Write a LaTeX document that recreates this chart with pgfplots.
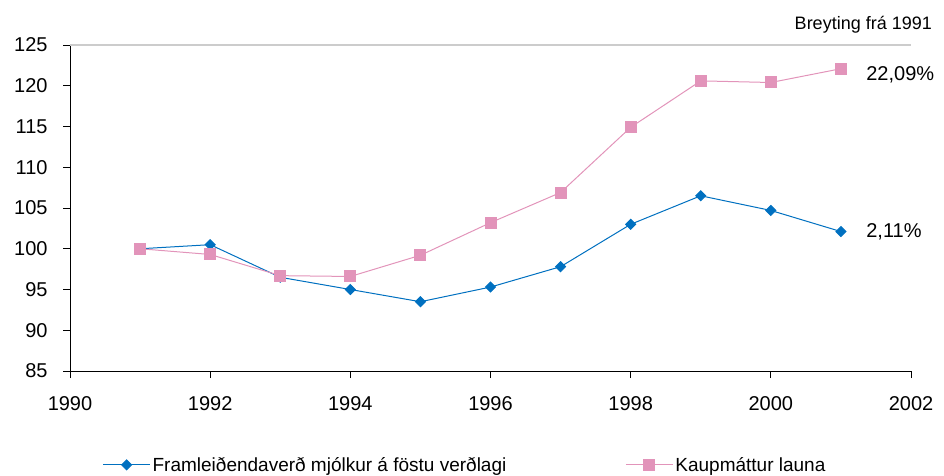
\documentclass[border=0pt]{standalone}
\usepackage{pgfplots}
\pgfplotsset{compat=1.18}
\usepackage{fontspec}
\setmainfont{Liberation Sans}
\definecolor{cblue}{RGB}{0,112,192}
\definecolor{cpink}{RGB}{226,148,186}
\begin{document}
\begin{tikzpicture}
\begin{axis}[
  scale only axis, width=841pt, height=326pt,
  at={(0pt,0pt)}, anchor=origin,
  xmin=1990, xmax=2002, ymin=85, ymax=125,
  xtick={1990,1992,...,2002}, ytick={85,90,...,125},
  axis lines*=left, axis line style={-, black, line width=0.9pt},
  tick align=outside, major tick length=7pt,
  tick style={black, line width=0.9pt},
  /pgf/number format/assume math mode=true,
  /pgf/number format/1000 sep={},
  tick label style={font=\fontsize{20}{24}\selectfont, black},
  yticklabel style={xshift=-12pt},
  xticklabel style={yshift=-15pt},
  clip=false,
  legend columns=2,
  legend style={draw=none, fill=none, at={(rel axis cs:0.4697,-0.288)}, anchor=center,
    font=\fontsize{19}{22}\selectfont, /tikz/every even column/.append style={column sep=117pt}},
  legend image code/.code={\draw[#1, mark=none] (-5pt,0pt) -- (42pt,0pt); \draw[#1, only marks] plot coordinates {(18.5pt,0pt)};},
]
\draw[gray!40, line width=1.2pt] (rel axis cs:0,1) -- (rel axis cs:1,1);
\addplot[cblue, line width=1pt, mark=square*, mark size=3.5pt, mark options={fill=cblue, draw=cblue, rotate=45}] coordinates {
(1991,100.0) (1992,100.5) (1993,96.5) (1994,95.0) (1995,93.5) (1996,95.3) (1997,97.8) (1998,103.0) (1999,106.5) (2000,104.7) (2001,102.11)};
\addlegendentry{Framleiðendaverð mjólkur á föstu verðlagi}
\addplot[cpink, line width=1pt, mark=square*, mark size=5.5pt, mark options={fill=cpink, draw=cpink}] coordinates {
(1991,100.0) (1992,99.3) (1993,96.7) (1994,96.6) (1995,99.2) (1996,103.2) (1997,106.9) (1998,114.9) (1999,120.6) (2000,120.4) (2001,122.09)};
\addlegendentry{Kaupmáttur launa}
\node[anchor=west, font=\fontsize{20}{24}\selectfont, inner sep=0pt] at (axis cs:2001.36,121.3) {22,09\%};
\node[anchor=west, font=\fontsize{20}{24}\selectfont, inner sep=0pt] at (axis cs:2001.36,102.05) {2,11\%};
\node[anchor=east, font=\fontsize{18}{22}\selectfont, inner sep=0pt] at (rel axis cs:1.025,1.061) {Breyting frá 1991};
\end{axis}
\pgfresetboundingbox
\path (-70pt,-104pt) rectangle (874pt,371pt);
\end{tikzpicture}
\end{document}
